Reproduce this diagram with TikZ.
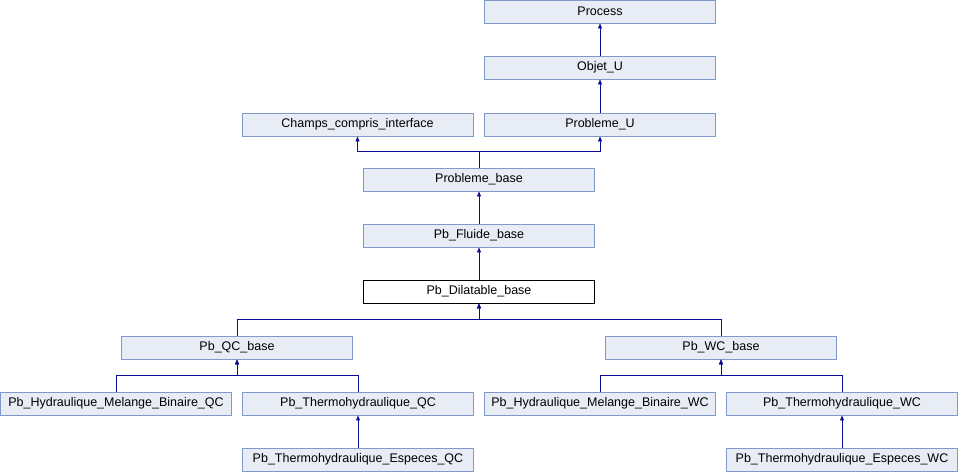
\documentclass[tikz,border=0pt]{standalone}
\usepackage{fontspec}
\setmainfont{Liberation Sans}
\usetikzlibrary{arrows.meta}
\definecolor{boxfill}{HTML}{E8ECF5}
\definecolor{boxline}{HTML}{8099CC}
\definecolor{linkblue}{HTML}{0C0C96}
\begin{document}
\begin{tikzpicture}[
  x = 1pt, y = -1pt,
  every node/.style = {inner sep=1pt, font=\fontsize{12.5}{15}\selectfont},
  cls/.style        = {draw=boxline, fill=boxfill, line width=0.9pt,
                       minimum width=231pt, minimum height=23pt},
  curcls/.style     = {cls, draw=black, fill=white},
  inherit/.style    = {draw=linkblue, line width=0.9pt,
                       -{Triangle[length=5pt, width=4pt]}},
]
\useasboundingbox (0,0) rectangle (958,472);

% level 0
\node[cls] (process)  at (600, 11.5) {Process};
% level 1
\node[cls] (objetu)   at (600, 67.5) {Objet\_U};
% level 2
\node[cls] (champs)   at (357.5, 124.5) {Champs\_compris\_interface};
\node[cls] (problu)   at (600, 124.5) {Probleme\_U};
% level 3
\node[cls] (pbase)    at (479, 179.5) {Probleme\_base};
% level 4
\node[cls] (fluide)   at (479, 235.5) {Pb\_Fluide\_base};
% level 5
\node[curcls] (dilat) at (479, 291.5) {Pb\_Dilatable\_base};
% level 6
\node[cls] (qcbase)   at (237, 347.5) {Pb\_QC\_base};
\node[cls] (wcbase)   at (721, 347.5) {Pb\_WC\_base};
% level 7
\node[cls] (hydqc)    at (116, 403.5) {Pb\_Hydraulique\_Melange\_Binaire\_QC};
\node[cls] (thermqc)  at (358, 403.5) {Pb\_Thermohydraulique\_QC};
\node[cls] (hydwc)    at (600, 403.5) {Pb\_Hydraulique\_Melange\_Binaire\_WC};
\node[cls] (thermwc)  at (842, 403.5) {Pb\_Thermohydraulique\_WC};
% level 8
\node[cls] (espqc)    at (358, 459.5) {Pb\_Thermohydraulique\_Especes\_QC};
\node[cls] (espwc)    at (842, 459.5) {Pb\_Thermohydraulique\_Especes\_WC};

% straight links
\foreach \c/\p in {objetu/process, problu/objetu, fluide/pbase,
                   dilat/fluide, espqc/thermqc, espwc/thermwc}
  \draw[inherit] (\c.north) -- (\p.south);

% elbow links
\foreach \c/\p in {pbase/champs, pbase/problu,
                   qcbase/dilat, wcbase/dilat,
                   hydqc/qcbase, thermqc/qcbase,
                   hydwc/wcbase, thermwc/wcbase}
  \draw[inherit] (\c.north) -- ++(0,-16) -| (\p.south);

\end{tikzpicture}
\end{document}
